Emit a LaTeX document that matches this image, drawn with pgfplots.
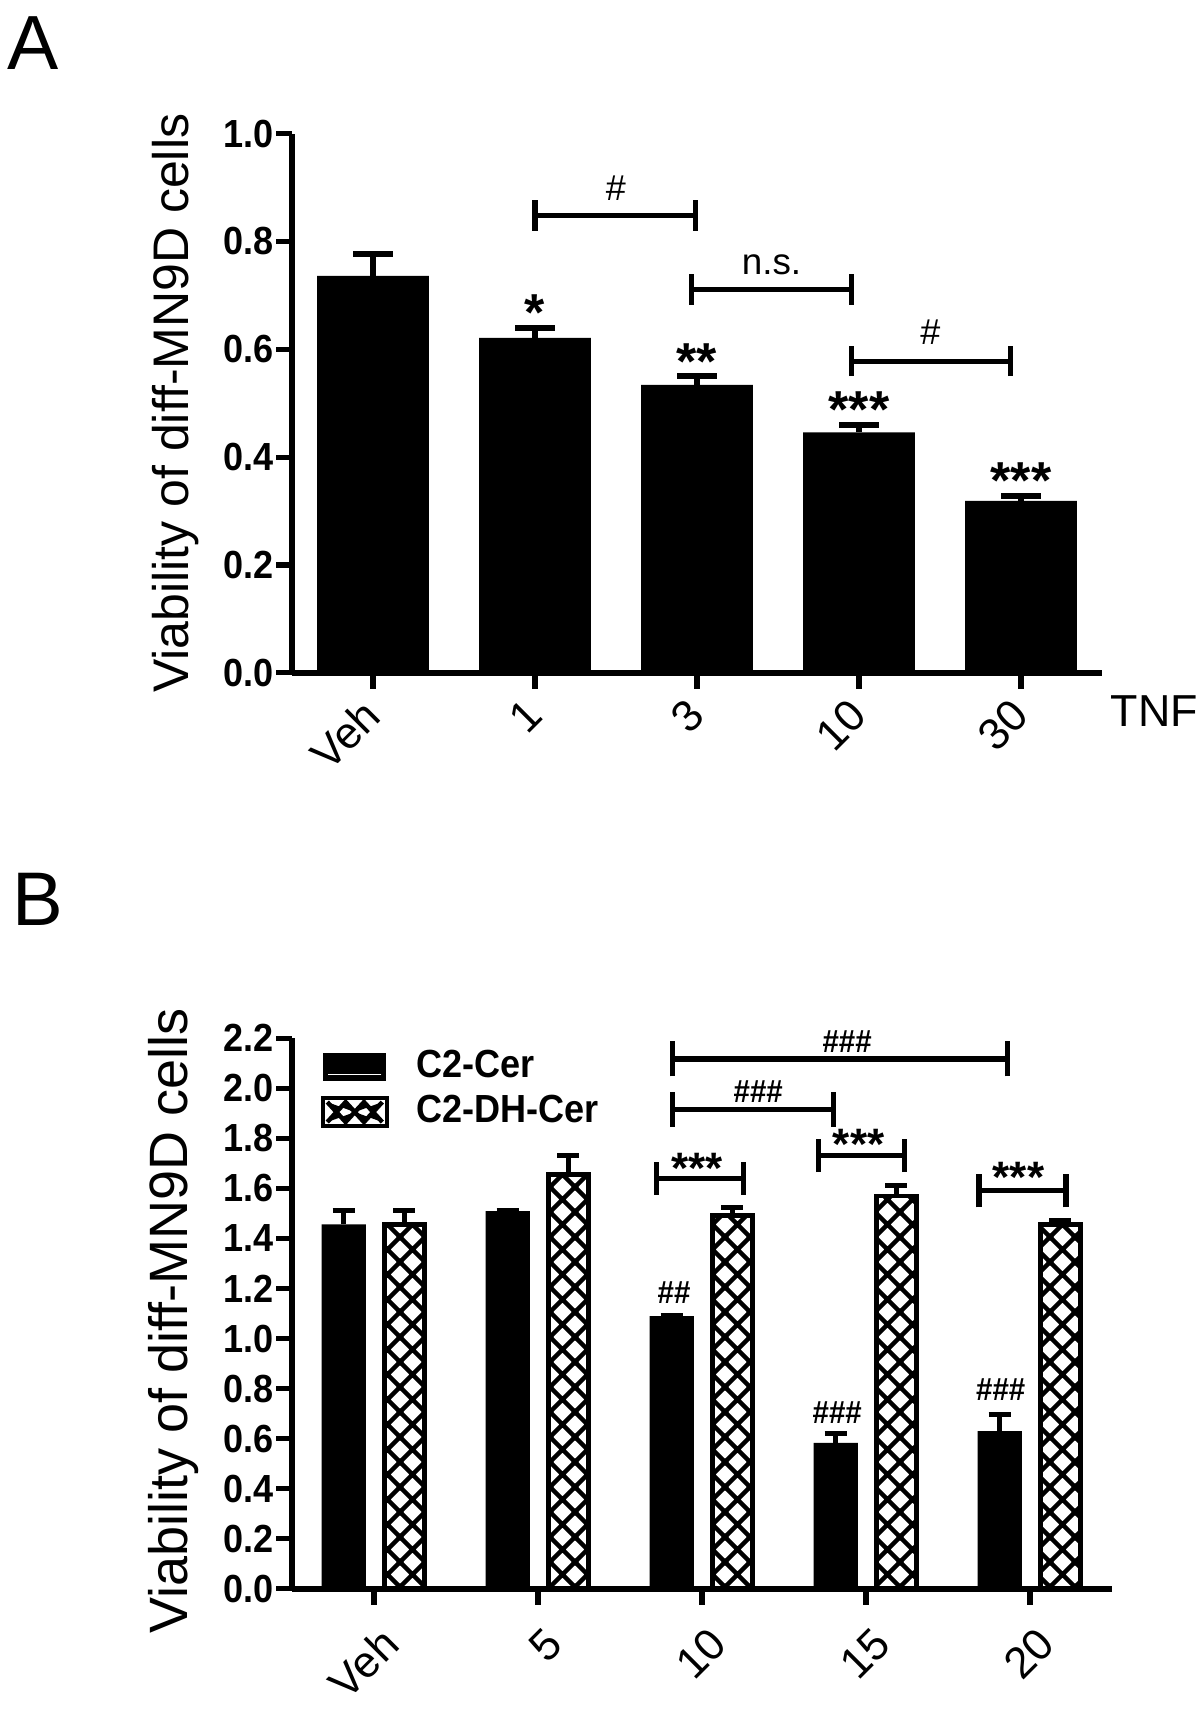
\documentclass[border=0pt]{standalone}
\usepackage{fontspec}
\setmainfont{Liberation Sans}
\newfontfamily\cond[FakeStretch=0.92]{Liberation Sans}
\usepackage{pgfplots}
\pgfplotsset{compat=1.18}
\usetikzlibrary{patterns}
\pgfdeclarepatternformonly{diam}{\pgfpoint{-1pt}{-1pt}}{\pgfpoint{7.25pt}{7.25pt}}{\pgfpoint{6.25pt}{6.25pt}}{%
  \pgfsetlinewidth{1.1pt}%
  \pgfpathmoveto{\pgfpoint{-0.5pt}{-0.5pt}}\pgfpathlineto{\pgfpoint{6.75pt}{6.75pt}}%
  \pgfpathmoveto{\pgfpoint{-0.5pt}{6.75pt}}\pgfpathlineto{\pgfpoint{6.75pt}{-0.5pt}}%
  \pgfusepath{stroke}}
\newcommand{\brk}[5]{\draw[line width=1.3pt] (axis cs:#1,#3) -- (axis cs:#1,#5) (axis cs:#1,#4) -- (axis cs:#2,#4) (axis cs:#2,#3) -- (axis cs:#2,#5);}
\pgfplotsset{prism/.style={
  scale only axis,
  axis x line*=bottom, axis y line*=left,
  axis line style={line width=1.4pt},
  major tick style={line width=1.3pt, black},
  major tick length=4pt,
  tick align=outside,
  xmin=-0.5, xmax=4.5, ymin=0,
  xtick={0,1,2,3,4},
  clip=false,
  /pgf/number format/fixed, /pgf/number format/fixed zerofill,
  /pgf/number format/precision=1, /pgf/number format/assume math mode=true,
  yticklabel style={font=\cond\bfseries\fontsize{9.8}{10}\selectfont, xshift=3pt},
  xticklabel style={font=\fontsize{11}{12}\selectfont, rotate=45, anchor=east},
  ylabel={Viability of diff-MN9D cells},
  ylabel style={font=\fontsize{12.5}{14}\selectfont, anchor=south},
}}
\begin{document}
\begin{tikzpicture}
\path[use as bounding box] (0,0) rectangle (300pt,428pt);
\node[anchor=base west, inner sep=0pt, font=\fontsize{19.2}{20}\selectfont] at (1.75pt,410.5pt) {A};
\node[anchor=base west, inner sep=0pt, font=\fontsize{19}{20}\selectfont] at (3pt,196.5pt) {B};
\begin{axis}[prism, at={(73pt,259.8pt)}, anchor=south west, width=202.5pt, height=134.8pt,
  ymax=1.0, ytick={0,0.2,0.4,0.6,0.8,1.0}, xticklabels={Veh,1,3,10,30},
  xticklabel style={xshift=0pt, yshift=-3.2pt},
  ylabel style={at={(axis description cs:-0.098,0.5)}}]
\addplot[ybar, bar width=0.69, bar shift=0pt, fill=black, draw=none,
  error bars/.cd, y dir=plus, y explicit,
  error bar style={line width=1.4pt, black},
  error mark options={rotate=90, line width=1.4pt, mark size=5pt, black}]
  table[x=x, y=y, y error=e]{
x y e
0 0.736 0.041
1 0.621 0.018
2 0.534 0.016
3 0.446 0.013
4 0.319 0.009
};
\brk{1.0}{1.993}{0.820}{0.848}{0.876}
\brk{1.968}{2.954}{0.683}{0.711}{0.739}
\brk{2.954}{3.933}{0.550}{0.578}{0.606}
\node[inner sep=0pt, font=\fontsize{9}{10}\selectfont] at (axis cs:1.5,0.898) {\#};
\node[inner sep=0pt, font=\fontsize{9.2}{10}\selectfont] at (axis cs:2.46,0.756) {n.s.};
\node[inner sep=0pt, font=\fontsize{9}{10}\selectfont] at (axis cs:3.44,0.632) {\#};
\node[inner sep=0pt, font=\bfseries\fontsize{13}{14}\selectfont] at (axis cs:1,0.668) {*};
\node[inner sep=0pt, font=\bfseries\fontsize{13}{14}\selectfont] at (axis cs:2,0.577) {**};
\node[inner sep=0pt, font=\bfseries\fontsize{13}{14}\selectfont] at (axis cs:3,0.489) {***};
\node[inner sep=0pt, font=\bfseries\fontsize{13}{14}\selectfont] at (axis cs:4,0.357) {***};
\node[anchor=base west, inner sep=0pt, font=\fontsize{11.2}{12}\selectfont] at (axis cs:4.5,0) [xshift=2pt, yshift=-13.5pt] {TNF};
\end{axis}
\begin{axis}[prism, at={(73pt,30.8pt)}, anchor=south west, width=205pt, height=137.65pt,
  ymax=2.2, ytick={0,0.2,0.4,0.6,0.8,1.0,1.2,1.4,1.6,1.8,2.0,2.2}, xticklabels={Veh,5,10,15,20},
  xticklabel style={xshift=0.85pt, yshift=-8.5pt},
  ylabel style={at={(axis description cs:-0.097,0.487)}, font=\fontsize{13.5}{15}\selectfont},
  legend style={at={(0.0344,0.98)}, anchor=north west, draw=none, fill=none, inner sep=0pt,
    font=\cond\bfseries\fontsize{9.8}{11}\selectfont, row sep=3pt, column sep=7pt,
    nodes={inner sep=0pt}},
  legend cell align=left]
\addplot[ybar, bar width=0.27, bar shift=0pt, fill=black, draw=none,
  error bars/.cd, y dir=plus, y explicit,
  error bar style={line width=1.2pt, black},
  error mark options={rotate=90, line width=1.2pt, mark size=2.75pt, black},
  /pgfplots/legend image code/.code={\fill[black] (0pt,-3.5pt) rectangle (15.75pt,3.5pt);
     \draw[white,line width=0.35pt] (1.2pt,-1.9pt) -- (14.5pt,-1.9pt);}]
  table[x=x, y=y, y error=e]{
x y e
-0.185 1.456 0.055
0.815 1.509 0.003
1.815 1.090 0.003
2.815 0.583 0.038
3.815 0.630 0.067
};
\addlegendentry{C2-Cer}
\addplot[ybar, bar width=0.245, bar shift=0pt, fill=white, draw=black, line width=1.15pt,
  error bars/.cd, y dir=plus, y explicit,
  error bar style={line width=1.2pt, black},
  error mark options={rotate=90, line width=1.2pt, mark size=2.75pt, black},
  /pgfplots/legend image code/.code={\fill[black] (0pt,-3.5pt) rectangle (15.75pt,3.5pt);
     \fill[white] (1pt,-2.5pt) rectangle (14.75pt,2.5pt);
     \draw[black,line width=1.1pt] (1pt,-2.5pt) -- (5.58pt,2.5pt) -- (10.17pt,-2.5pt) -- (14.75pt,2.5pt)
        (1pt,2.5pt) -- (5.58pt,-2.5pt) -- (10.17pt,2.5pt) -- (14.75pt,-2.5pt);}]
  table[x=x, y=y, y error=e]{
x y e
0.185 1.456 0.055
1.185 1.655 0.076
2.185 1.491 0.031
3.185 1.570 0.043
4.185 1.455 0.019
};
\addlegendentry{C2-DH-Cer}
\addplot[ybar, bar width=0.245, bar shift=0pt, draw=none, pattern=diam, forget plot]
  table[x=x, y=y]{
x y
0.185 1.456
1.185 1.655
2.185 1.491
3.185 1.570
4.185 1.455
};
\brk{1.822}{3.864}{2.047}{2.117}{2.187}
\brk{1.822}{2.804}{1.847}{1.916}{1.985}
\brk{1.724}{2.255}{1.574}{1.640}{1.706}
\brk{2.710}{3.234}{1.665}{1.731}{1.797}
\brk{3.689}{4.220}{1.524}{1.590}{1.656}
\node[inner sep=0pt, font=\cond\bfseries\fontsize{8}{9}\selectfont] at (axis cs:2.885,2.187) {\#\#\#};
\node[inner sep=0pt, font=\cond\bfseries\fontsize{8}{9}\selectfont] at (axis cs:2.343,1.985) {\#\#\#};
\node[inner sep=0pt, font=\bfseries\fontsize{11}{12}\selectfont] at (axis cs:1.97,1.681) {***};
\node[inner sep=0pt, font=\bfseries\fontsize{11}{12}\selectfont] at (axis cs:2.955,1.775) {***};
\node[inner sep=0pt, font=\bfseries\fontsize{11}{12}\selectfont] at (axis cs:3.93,1.643) {***};
\node[inner sep=0pt, font=\cond\bfseries\fontsize{8}{9}\selectfont] at (axis cs:1.83,1.184) {\#\#};
\node[inner sep=0pt, font=\cond\bfseries\fontsize{8}{9}\selectfont] at (axis cs:2.825,0.704) {\#\#\#};
\node[inner sep=0pt, font=\cond\bfseries\fontsize{8}{9}\selectfont] at (axis cs:3.822,0.795) {\#\#\#};
\end{axis}
\end{tikzpicture}
\end{document}
